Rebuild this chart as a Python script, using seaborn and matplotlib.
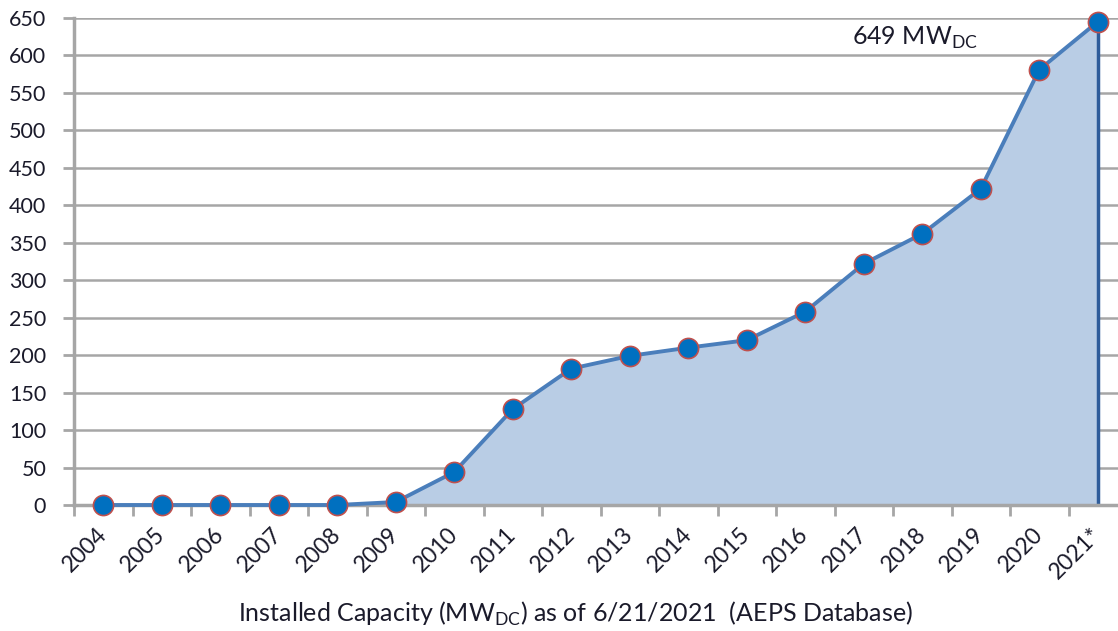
import matplotlib
matplotlib.use("Agg")
import matplotlib.pyplot as plt
import seaborn as sns
import pandas as pd
import numpy as np

years = ["2004", "2005", "2006", "2007", "2008", "2009", "2010", "2011", "2012",
         "2013", "2014", "2015", "2016", "2017", "2018", "2019", "2020", "2021*"]
capacity = [0, 0, 0, 0, 0, 4, 44, 128, 182, 199, 210, 220, 258, 322, 362, 422, 581, 645]
y_ticks = [0, 50, 100, 150, 200, 250, 300, 350, 400, 450, 500, 550, 600, 650]
annotation = r"649 MW$_\mathregular{DC}$"
xlabel = r"Installed Capacity (MW$_\mathregular{DC}$) as of 6/21/2021  (AEPS Database)"

sns.set_style("white")
plt.rcParams['font.family'] = ['Lato', 'DejaVu Sans']

df = pd.DataFrame({"idx": np.arange(len(years)), "year": years, "cap": capacity})

fig = plt.figure(figsize=(11.18, 6.31), dpi=100)
ax = fig.add_axes([74/1118, 1-505/631, 1053/1118, (505-18)/631])

grid_c = "#A6A6A6"
txt_c = "#1a1a2a"
for t in y_ticks[1:]:
    ax.axhline(t, color=grid_c, lw=1.8, zorder=0)

ax.fill_between(df["idx"], df["cap"], 0, color="#B9CDE5", zorder=1, lw=0)
ax.vlines(df["idx"].iloc[-1], 0, df["cap"].iloc[-1], color="#2E5C9A", lw=2.5, zorder=2)
sns.lineplot(data=df, x="idx", y="cap", ax=ax, color="#4A7EBB", lw=2.8, zorder=3,
             marker="o", markersize=14.5, markerfacecolor="#0070C0",
             markeredgecolor="#C0504D", markeredgewidth=1.2, clip_on=False)

ax.set_xlim(-0.5, len(years) - 0.5)
ax.set_ylim(0, 650)
ax.set_yticks(y_ticks)
ax.set_yticklabels([str(t) for t in y_ticks], fontsize=15.5, color=txt_c)
ax.set_xticks(df["idx"])
ax.set_xticklabels(years, rotation=45, ha="right", va="center",
                   rotation_mode="anchor", fontsize=16.5, color=txt_c)
ax.tick_params(axis="x", length=0, pad=19)
ax.tick_params(axis="y", length=8, width=2, color=grid_c, pad=12, direction="out", left=True)
ax.set_xticks(np.arange(-0.5, len(years), 1.0), minor=True)
ax.tick_params(axis="x", which="minor", length=8, width=2, color=grid_c, bottom=True, direction="out")

for s in ["top", "right"]:
    ax.spines[s].set_visible(False)
for s in ["left", "bottom"]:
    ax.spines[s].set_color(grid_c)
    ax.spines[s].set_linewidth(2.5)
    ax.spines[s].set_zorder(2.5)
ax.set_xlabel("")
ax.set_ylabel("")

fig.text(852/1118, 1-38/631, annotation, fontsize=18, ha="left", va="center", color=txt_c)
fig.text(575/1118, 1-614/631, xlabel, fontsize=18, ha="center", va="center", color=txt_c)

fig.savefig("out.png", dpi=100)
